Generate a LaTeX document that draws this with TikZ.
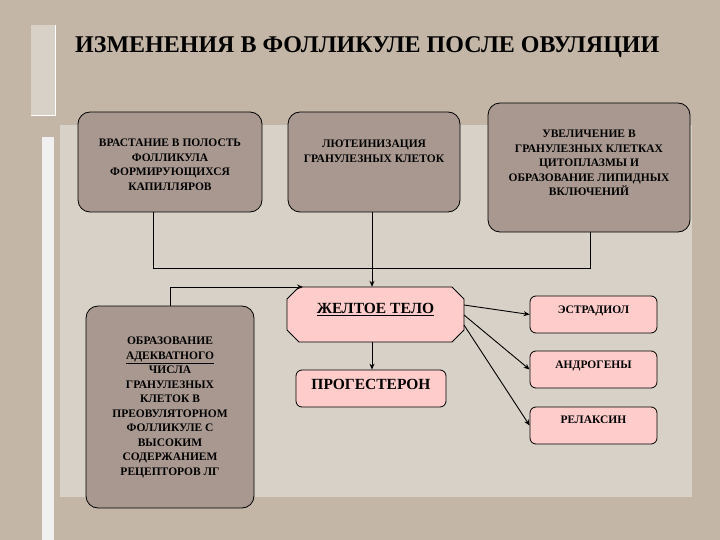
\documentclass[tikz,border=0pt]{standalone}
\usepackage{fontspec}
\setmainfont{Liberation Serif}
\usetikzlibrary{arrows.meta}
\definecolor{bgtan}{HTML}{C4B6A6}
\definecolor{panel}{HTML}{D8D1C7}
\definecolor{mauve}{HTML}{A89890}
\definecolor{pinkb}{HTML}{FFCCCC}
\tikzset{
 dbox/.style={draw=black,fill=mauve,rounded corners=12pt,line width=0.8pt,inner sep=0pt},
 dtxt/.style={anchor=north,align=center,inner sep=0pt,font=\bfseries\fontsize{11.5}{14.5}\selectfont},
 pbox/.style={draw=black,fill=pinkb,rounded corners=6pt,line width=0.8pt,inner sep=0pt},
 ptxt/.style={anchor=north,inner sep=0pt,font=\bfseries\fontsize{11.5}{14}\selectfont},
 conn/.style={line width=0.9pt},
 arr/.style={line width=0.9pt,-{Stealth[length=6pt,width=5pt]}}
}
\begin{document}
\begin{tikzpicture}[x=1pt,y=-1pt]
\useasboundingbox (0,0) rectangle (720,540);
\fill[bgtan] (0,0) rectangle (720,540);
\fill[panel] (60,125) rectangle (692,497);
\fill[panel] (31,25) rectangle (55,115);
\draw[white,line width=0.6pt] (31,115) -- (55,115) -- (55,25);
\fill[gray!12] (42,137) rectangle (54,540);
\node[font=\bfseries\fontsize{24}{27}\selectfont,anchor=west,inner sep=0pt] (title) at (75,47) {ИЗМЕНЕНИЯ В ФОЛЛИКУЛЕ ПОСЛЕ ОВУЛЯЦИИ};
\node[dbox,minimum width=184pt,minimum height=100pt] (b1) at (170,162) {};
\node[dtxt] (t1) at (170,139) {ВРАСТАНИЕ В ПОЛОСТЬ\\ФОЛЛИКУЛА\\ФОРМИРУЮЩИХСЯ\\КАПИЛЛЯРОВ};
\node[dbox,minimum width=172pt,minimum height=100pt] (b2) at (374,162) {};
\node[dtxt] (t2) at (374,140) {ЛЮТЕИНИЗАЦИЯ\\ГРАНУЛЕЗНЫХ КЛЕТОК};
\node[dbox,minimum width=202pt,minimum height=129pt] (b3) at (589,167.5) {};
\node[dtxt] (t3) at (589,130) {УВЕЛИЧЕНИЕ В\\ГРАНУЛЕЗНЫХ КЛЕТКАХ\\ЦИТОПЛАЗМЫ И\\ОБРАЗОВАНИЕ ЛИПИДНЫХ\\ВКЛЮЧЕНИЙ};
\node[dbox,minimum width=168pt,minimum height=202pt] (b4) at (170,407) {};
\node[dtxt] (t4) at (170,337) {ОБРАЗОВАНИЕ\\\underline{АДЕКВАТНОГО}\\ЧИСЛА\\ГРАНУЛЕЗНЫХ\\КЛЕТОК В\\ПРЕОВУЛЯТОРНОМ\\ФОЛЛИКУЛЕ С\\ВЫСОКИМ\\СОДЕРЖАНИЕМ\\РЕЦЕПТОРОВ ЛГ};
% octagon
\draw[fill=pinkb,line width=0.8pt] (299,287) -- (452,287) -- (464,299) -- (464,330) -- (452,342) -- (299,342) -- (287,330) -- (287,299) -- cycle;
\node[inner sep=0pt,minimum width=177pt,minimum height=55pt] (yt) at (375.5,314.5) {};
\node[ptxt,font=\bfseries\fontsize{15.5}{18}\selectfont] (ytl) at (375.5,303) {\underline{ЖЕЛТОЕ ТЕЛО}};
\node[pbox,minimum width=150pt,minimum height=37pt] (pg) at (371,388.5) {};
\node[ptxt,font=\bfseries\fontsize{15.5}{18}\selectfont] (pgl) at (371,379) {ПРОГЕСТЕРОН};
\node[pbox,minimum width=127pt,minimum height=37pt] (e) at (593.5,314.5) {};
\node[ptxt] (el) at (593.5,306) {ЭСТРАДИОЛ};
\node[pbox,minimum width=127pt,minimum height=37pt] (a) at (593.5,369.5) {};
\node[ptxt] (al) at (593.5,361) {АНДРОГЕНЫ};
\node[pbox,minimum width=127pt,minimum height=37pt] (r) at (593.5,425.5) {};
\node[ptxt] (rl) at (593.5,416) {РЕЛАКСИН};
% connectors
\draw[conn] (b1.south -| 153,0) -- (153,268) -- (590,268) -- (b3.south -| 590,0);
\draw[arr] (b2.south -| 372,0) -- (yt.north -| 372,0);
\draw[arr] (b4.north) -- (170,287) -- (303,287);
\draw[arr] (yt.south -| 372,0) -- (pg.north -| 372,0);
\draw[arr] (464,305) -- (e.west);
\draw[arr] (464,315) -- (a.west);
\draw[arr] (464,325) -- (r.west);
\end{tikzpicture}
\end{document}
